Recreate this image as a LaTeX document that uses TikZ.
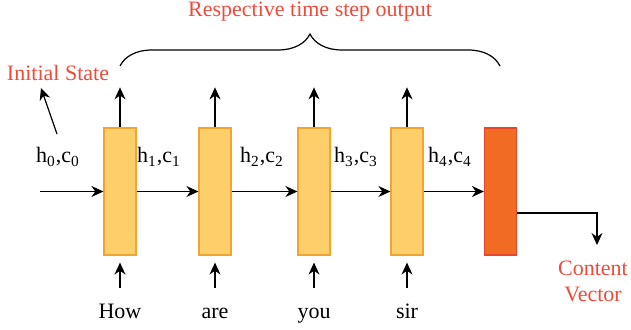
\documentclass[tikz,border=0pt]{standalone}
\usepackage{fontspec}
\setmainfont{Liberation Serif}
\usetikzlibrary{arrows.meta,decorations.pathreplacing}

\definecolor{cellfill}{HTML}{FDCF6B}
\definecolor{celldraw}{HTML}{F2A52E}
\definecolor{endfill}{HTML}{F26B22}
\definecolor{enddraw}{HTML}{E8452A}
\definecolor{notered}{HTML}{EE4B3B}

\tikzset{
    cell/.style={draw=celldraw, fill=cellfill, line width=0.6pt, minimum width=16pt, minimum height=63.5pt, inner sep=0pt},
    endcell/.style={cell, draw=enddraw, fill=endfill},
    flow/.style={-{Stealth[length=6pt,width=5.5pt]}, line width=0.6pt},
    note/.style={text=notered},
    word/.style={text height=1.6ex, text depth=0.4ex}
}

\begin{document}
\begin{tikzpicture}[x=0.5pt, y=-0.5pt, every node/.style={font=\fontsize{11}{13}\selectfont}]
    \useasboundingbox (0,0) rectangle (631,330);

    % LSTM cells
    \node[cell] (c1) at (120,191.5) {};
    \node[cell] (c2) at (215,191.5) {};
    \node[cell] (c3) at (314,191.5) {};
    \node[cell] (c4) at (407,191.5) {};
    \node[endcell] (c5) at (500.5,191.5) {};

    % state flow
    \coordinate (start) at (40,191.5);
    \draw[flow] (start) -- (c1);
    \draw[flow] (c1) -- (c2);
    \draw[flow] (c2) -- (c3);
    \draw[flow] (c3) -- (c4);
    \draw[flow] (c4) -- (c5);
    \node (s0) at (58,157) {h\textsubscript{0},c\textsubscript{0}};
    \node (s1) at (159,157) {h\textsubscript{1},c\textsubscript{1}};
    \node (s2) at (262,157) {h\textsubscript{2},c\textsubscript{2}};
    \node (s3) at (356,157) {h\textsubscript{3},c\textsubscript{3}};
    \node (s4) at (450,157) {h\textsubscript{4},c\textsubscript{4}};

    % initial state
    \node[note] (init) at (58,73) {Initial State};
    \coordinate (initfoot) at (57,134);
    \coordinate (inittip) at (41,88);
    \draw[flow] (initfoot) -- (inittip);

    % outputs and inputs
    \foreach \i/\w in {1/How,2/are,3/you,4/sir} {
        \coordinate (out\i) at ([yshift=20pt]c\i.north);
        \draw[flow] (c\i.north) -- (out\i);
        \node[word] (w\i) at ([yshift=-28.5pt]c\i.south) {\w};
        \coordinate (in\i) at ([yshift=-16pt]c\i.south);
        \draw[flow] (in\i) -- ([yshift=-3.5pt]c\i.south);
    }

    % brace over the outputs
    \coordinate (bl) at (120,66);
    \coordinate (br) at (500,66);
    \draw[line width=0.6pt, decorate, decoration={brace, amplitude=16pt}] (bl) -- (br);
    \node[note] (resp) at (310,12) {Respective time step output};

    % content vector
    \coordinate (turn) at (597,213);
    \coordinate (vtip) at (597,245);
    \draw[flow] (c5.east |- turn) -- (turn) -- (vtip);
    \node[note, align=center] (vec) at (593,281) {Content\\Vector};
\end{tikzpicture}
\end{document}
